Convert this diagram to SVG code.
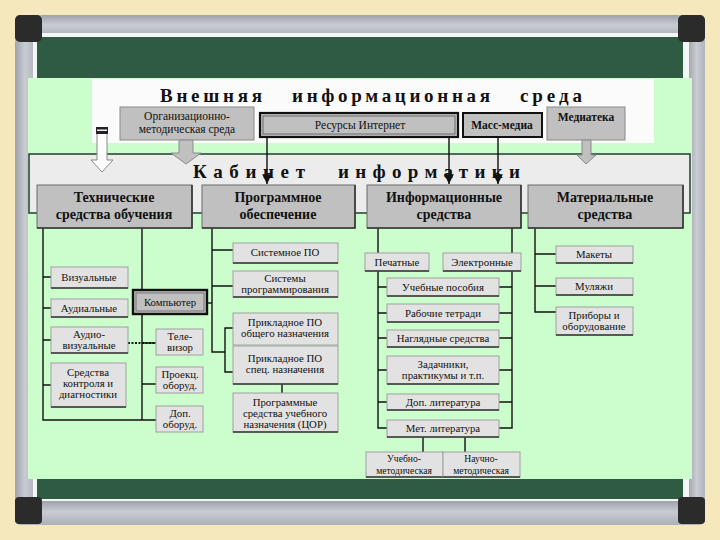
<svg xmlns="http://www.w3.org/2000/svg" width="720" height="540" viewBox="0 0 720 540">
<style>
text{font-family:"Liberation Serif","Times New Roman",serif;fill:#111;text-anchor:middle}
.t{font-size:19px;font-weight:bold}
.h{font-size:14px;font-weight:bold}
.s{font-size:10.8px}
.m{font-size:11.5px}
.b{font-size:9.6px}
.hb{fill:#c0c0c0;stroke:#6a6a6a;stroke-width:1}
.sb{fill:#e2e2e2;stroke:#a0a0a0;stroke-width:1}
.sh{fill:none;stroke:#333;stroke-width:1.6}
.ln{fill:none;stroke:#111;stroke-width:1.4}
</style>
<defs>
<linearGradient id="silH" x1="0" y1="0" x2="0" y2="1"><stop offset="0" stop-color="#9ea2aa"/><stop offset="0.5" stop-color="#c9ccd2"/><stop offset="1" stop-color="#b0b4bb"/></linearGradient>
<linearGradient id="silV" x1="0" y1="0" x2="1" y2="0"><stop offset="0" stop-color="#9ea2aa"/><stop offset="0.5" stop-color="#c9ccd2"/><stop offset="1" stop-color="#b0b4bb"/></linearGradient>
<marker id="ah" viewBox="0 0 10 10" refX="10" refY="5" markerWidth="7" markerHeight="7" orient="auto"><path d="M0,0 L10,5 L0,10 z" fill="#111"/></marker>
</defs>
<rect width="720" height="540" fill="#f5e8bd"/>
<g id="frame">
<rect x="15" y="15" width="690" height="510" rx="6" fill="#aeb2b9"/>
<rect x="42" y="15" width="636" height="20" fill="url(#silH)"/>
<rect x="42" y="501" width="636" height="22" fill="url(#silH)"/>
<rect x="15" y="42" width="20" height="456" fill="url(#silV)"/>
<rect x="688" y="42" width="17" height="456" fill="url(#silV)"/>
<rect x="33" y="33" width="656" height="468" fill="#f4f6f6"/>
<rect x="37" y="37" width="646" height="462" fill="#2f5b45"/>
<rect x="15" y="15" width="27" height="27" rx="5" fill="#2b2b2b"/>
<rect x="678" y="15" width="27" height="27" rx="5" fill="#2b2b2b"/>
<rect x="15" y="497" width="27" height="27" rx="4" fill="#2b2b2b"/>
<rect x="678" y="497" width="27" height="27" rx="4" fill="#2b2b2b"/>
<rect x="28" y="78" width="664" height="401" fill="#ccfdcc"/>
</g>
<g id="external">
<rect x="92" y="79" width="562" height="64" fill="#fbfbfb"/>
<text class="t" x="211" y="102" textLength="102" lengthAdjust="spacing">Внешняя</text>
<text class="t" x="391" y="102" textLength="198" lengthAdjust="spacing">информационная</text>
<text class="t" x="551" y="102" textLength="62" lengthAdjust="spacing">среда</text>
</g>
<g id="cabinet">
<rect x="29" y="154" width="661" height="59" fill="#ececec" stroke="#1f3f2e" stroke-width="1.5"/>
<text class="t" x="249" y="178" textLength="112" lengthAdjust="spacing">Кабинет</text>
<text class="t" x="429" y="178" textLength="182" lengthAdjust="spacing">информатики</text>
</g>
<g id="n-org">
<rect x="120" y="107" width="134" height="33" fill="#c0c0c0" stroke="#8a8a8a"/>
<text class="m" x="187" y="120">Организационно-</text>
<text class="m" x="187" y="133">методическая среда</text>
<polygon points="179,140 193,140 193,153 201,153 186,164 171,153 179,153" fill="#c0c0c0" stroke="#8a8a8a"/>
</g>
<g id="n-left-arrow">
<polygon points="97,133 107,133 107,160 113,160 102,172 91,160 97,160" fill="#fdfdfd" stroke="#8a8a8a"/>
<rect x="96" y="127" width="12" height="7" fill="#222"/>
<rect x="97" y="129.5" width="10" height="1.5" fill="#eee"/>
</g>
<g id="n-inet">
<rect x="260" y="113" width="198" height="24" fill="#c0c0c0" stroke="#111" stroke-width="2.2"/>
<rect x="263" y="116" width="192" height="18" fill="none" stroke="#555" stroke-width="0.8"/>
<text class="m" x="360" y="129">Ресурсы Интернет</text>
</g>
<g id="n-mass">
<rect x="463" y="113" width="79" height="24" fill="#c0c0c0" stroke="#111" stroke-width="2"/>
<text class="m" x="502" y="129" font-weight="bold">Масс-медиа</text>
</g>
<g id="n-media">
<rect x="547" y="107" width="78" height="33" fill="#c0c0c0" stroke="#8a8a8a"/>
<text class="m" x="586" y="121" font-weight="bold">Медиатека</text>
<polygon points="582,140 591,140 591,155 596,155 586,164 577,155 582,155" fill="#c0c0c0" stroke="#8a8a8a"/>
</g>
<g id="connectors">
<path class="ln" d="M267,137 V184" marker-end="url(#ah)"/>
<path class="ln" d="M449,137 V184" marker-end="url(#ah)"/>
<path class="ln" d="M498,137 V184" marker-end="url(#ah)"/>
<path class="ln" d="M43,228 V420 H156 M43,277 H51 M43,308 H51 M43,340 H51 M43,385 H51"/>
<path class="ln" d="M142,228 V420 M142,343 H156 M142,384 H156"/>
<path fill="none" stroke="#111" stroke-width="2" stroke-dasharray="2,1.5" d="M128,343 H156"/>
<path class="ln" d="M207,303 H212"/>
<path class="ln" d="M212,228 V352 H225 M212,250 H233 M212,286 H233 M233,328 H225 V372 H233 M282,384 V393"/>
<path class="ln" d="M378,227 V428 H387 M512,227 V428 H499 M378,287 H387 M499,287 H512 M378,313 H387 M499,313 H512 M378,338 H387 M499,338 H512 M378,370 H387 M499,370 H512 M378,402 H387 M499,402 H512 M423,437 V452 M465,437 V452"/>
<path class="ln" d="M535,227 V312 H556 M535,254 H556 M535,286 H556"/>
</g>
<g id="n-tso">
<rect class="hb" x="37" y="185" width="155" height="43"/><path class="sh" d="M37,228 H192 V185"/>
<text class="h" x="114" y="202">Технические</text><text class="h" x="114" y="219">средства обучения</text>
</g>
<g id="n-po">
<rect class="hb" x="202" y="185" width="153" height="43"/><path class="sh" d="M202,228 H355 V185"/>
<text class="h" x="278" y="202">Программное</text><text class="h" x="278" y="219">обеспечение</text>
</g>
<g id="n-is">
<rect class="hb" x="367" y="185" width="154" height="43"/><path class="sh" d="M367,228 H521 V185"/>
<text class="h" x="444" y="202">Информационные</text><text class="h" x="444" y="219">средства</text>
</g>
<g id="n-ms">
<rect class="hb" x="528" y="185" width="155" height="43"/><path class="sh" d="M528,228 H683 V185"/>
<text class="h" x="605" y="202">Материальные</text><text class="h" x="605" y="219">средства</text>
</g>
<g id="n-viz"><rect class="sb" x="51" y="267" width="77" height="21"/><path class="sh" d="M51,288 H128"/><text class="s" x="89" y="281">Визуальные</text></g>
<g id="n-aud"><rect class="sb" x="51" y="299" width="77" height="18"/><path class="sh" d="M51,317 H128"/><text class="s" x="89" y="312">Аудиальные</text></g>
<g id="n-audviz"><rect class="sb" x="51" y="327" width="77" height="26"/><path class="sh" d="M51,353 H128"/><text class="s" x="89" y="338">Аудио-</text><text class="s" x="89" y="349">визуальные</text></g>
<g id="n-ctrl"><rect class="sb" x="51" y="363" width="75" height="44"/><path class="sh" d="M51,407 H126"/><text class="s" x="88" y="376">Средства</text><text class="s" x="88" y="387">контроля и</text><text class="s" x="88" y="398">диагностики</text></g>
<g id="n-comp"><rect x="133" y="290" width="74" height="24" fill="#c0c0c0" stroke="#111" stroke-width="2.4"/><rect x="136" y="293" width="68" height="18" fill="none" stroke="#555" stroke-width="0.7"/><text class="s" x="170" y="306">Компьютер</text></g>
<g id="n-tv"><rect class="sb" x="156" y="329" width="47" height="26"/><text class="s" x="180" y="340">Теле-</text><text class="s" x="180" y="351">визор</text></g>
<g id="n-proj"><rect class="sb" x="156" y="367" width="47" height="26"/><text class="s" x="180" y="378">Проекц.</text><text class="s" x="180" y="389">оборуд.</text></g>
<g id="n-dop"><rect class="sb" x="156" y="406" width="47" height="26"/><text class="s" x="180" y="417">Доп.</text><text class="s" x="180" y="428">оборуд.</text></g>
<g id="n-sys"><rect class="sb" x="233" y="243" width="105" height="20"/><path class="sh" d="M233,263 H338"/><text class="s" x="285" y="256">Системное ПО</text></g>
<g id="n-prog"><rect class="sb" x="233" y="271" width="105" height="26"/><path class="sh" d="M233,297 H338"/><text class="s" x="285" y="282">Системы</text><text class="s" x="285" y="293">программирования</text></g>
<g id="n-app1"><rect class="sb" x="233" y="313" width="105" height="32"/><text class="s" x="285" y="326">Прикладное ПО</text><text class="s" x="285" y="337">общего назначения</text></g>
<g id="n-app2"><rect class="sb" x="233" y="346" width="105" height="38"/><path class="sh" d="M233,384 H338"/><text class="s" x="285" y="362">Прикладное ПО</text><text class="s" x="285" y="373">спец. назначения</text></g>
<g id="n-cor"><rect class="sb" x="233" y="393" width="105" height="39"/><path class="sh" d="M233,432 H338"/><text class="s" x="285" y="406">Программные</text><text class="s" x="285" y="417">средства учебного</text><text class="s" x="285" y="428">назначения (ЦОР)</text></g>
<g id="n-print"><rect class="sb" x="365" y="253" width="64" height="18"/><path class="sh" d="M365,271 H429"/><text class="s" x="397" y="266">Печатные</text></g>
<g id="n-el"><rect class="sb" x="443" y="253" width="78" height="18"/><path class="sh" d="M443,271 H521"/><text class="s" x="482" y="266">Электронные</text></g>
<g id="n-ucheb"><rect class="sb" x="387" y="278" width="112" height="18"/><path class="sh" d="M387,296 H499"/><text class="s" x="443" y="291">Учебные пособия</text></g>
<g id="n-rab"><rect class="sb" x="387" y="304" width="112" height="18"/><path class="sh" d="M387,322 H499"/><text class="s" x="443" y="317">Рабочие тетради</text></g>
<g id="n-nagl"><rect class="sb" x="387" y="330" width="112" height="17"/><path class="sh" d="M387,347 H499"/><text class="s" x="443" y="342">Наглядные средства</text></g>
<g id="n-zad"><rect class="sb" x="387" y="356" width="112" height="28"/><path class="sh" d="M387,384 H499"/><text class="s" x="443" y="368">Задачники,</text><text class="s" x="443" y="379">практикумы и т.п.</text></g>
<g id="n-doplit"><rect class="sb" x="387" y="394" width="112" height="16"/><path class="sh" d="M387,410 H499"/><text class="s" x="443" y="406">Доп. литература</text></g>
<g id="n-metlit"><rect class="sb" x="387" y="420" width="112" height="17"/><path class="sh" d="M387,437 H499"/><text class="s" x="443" y="432">Мет. литература</text></g>
<g id="n-um"><rect class="sb" x="366" y="452" width="77" height="25"/><path class="sh" d="M366,477 H443"/><text class="b" x="404" y="462">Учебно-</text><text class="b" x="404" y="474">методическая</text></g>
<g id="n-nm"><rect class="sb" x="443" y="452" width="77" height="25"/><path class="sh" d="M443,477 H520"/><text class="b" x="481" y="462">Научно-</text><text class="b" x="481" y="474">методическая</text></g>
<g id="n-maket"><rect class="sb" x="556" y="246" width="77" height="17"/><path class="sh" d="M556,263 H633"/><text class="s" x="594" y="258">Макеты</text></g>
<g id="n-mul"><rect class="sb" x="556" y="278" width="77" height="17"/><path class="sh" d="M556,295 H633"/><text class="s" x="594" y="290">Муляжи</text></g>
<g id="n-prib"><rect class="sb" x="556" y="307" width="77" height="28"/><path class="sh" d="M556,335 H633"/><text class="s" x="594" y="319">Приборы и</text><text class="s" x="594" y="330">оборудование</text></g>
</svg>
